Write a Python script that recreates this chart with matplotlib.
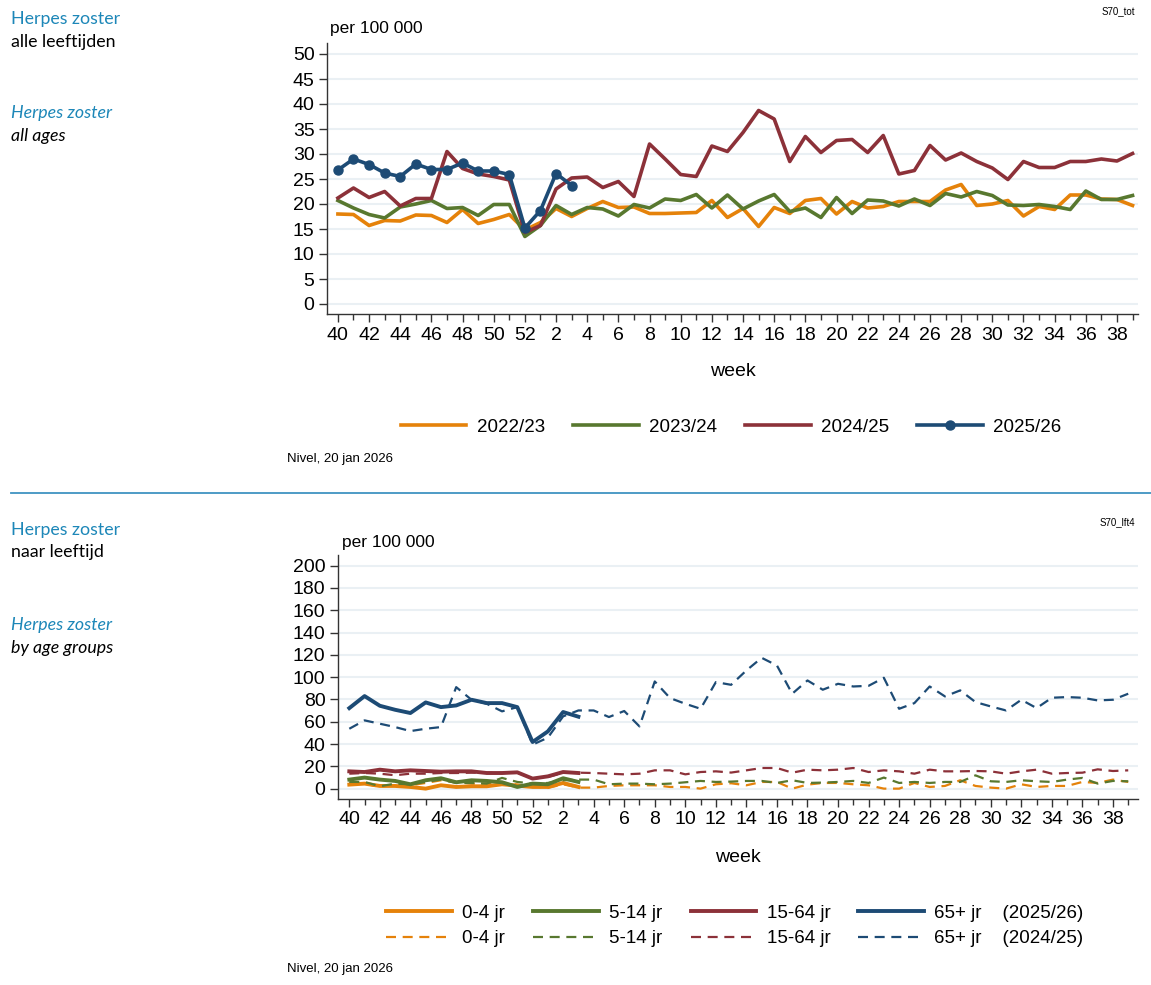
import matplotlib
matplotlib.use("Agg")
import matplotlib.pyplot as plt
from matplotlib.lines import Line2D
from matplotlib.ticker import MultipleLocator

plt.rcParams['font.family'] = ['Liberation Sans', 'DejaVu Sans']

# week order of a season: 40..52, then 1..39
weeks = [40, 41, 42, 43, 44, 45, 46, 47, 48, 49, 50, 51, 52,
         1, 2, 3, 4, 5, 6, 7, 8, 9, 10, 11, 12, 13, 14, 15, 16, 17, 18, 19, 20,
         21, 22, 23, 24, 25, 26, 27, 28, 29, 30, 31, 32, 33, 34, 35, 36, 37, 38, 39]

# --- all ages, per 100 000 ---
s2223 = [18.0, 17.9, 15.7, 16.7, 16.6, 17.8, 17.7, 16.3, 18.9, 16.1, 16.9, 17.9, 14.8,
         16.3, 19.1, 17.5, 19.1, 20.5, 19.3, 19.4, 18.1, 18.1, 18.2, 18.3, 20.7, 17.3,
         19.1, 15.5, 19.3, 18.1, 20.7, 21.1, 18.0, 20.5, 19.2, 19.5, 20.5, 20.5, 20.5,
         22.8, 23.9, 19.7, 20.0, 20.7, 17.6, 19.5, 18.9, 21.8, 21.8, 21.0, 20.9, 19.7]
s2324 = [20.7, 19.2, 17.9, 17.2, 19.4, 20.0, 20.7, 19.1, 19.3, 17.7, 19.9, 19.9, 13.5,
         15.7, 19.7, 17.9, 19.3, 19.0, 17.6, 19.9, 19.2, 21.0, 20.7, 21.9, 19.2, 21.8,
         19.0, 20.6, 21.9, 18.5, 19.2, 17.3, 21.3, 18.1, 20.8, 20.6, 19.6, 21.0, 19.7,
         22.1, 21.4, 22.5, 21.7, 19.8, 19.7, 19.9, 19.5, 18.9, 22.6, 20.9, 20.9, 21.7]
s2425 = [21.2, 23.2, 21.3, 22.5, 19.6, 21.1, 21.1, 30.5, 27.1, 26.0, 25.5, 24.8, 14.3,
         15.7, 23.0, 25.2, 25.4, 23.3, 24.5, 21.5, 32.0, 29.0, 25.9, 25.5, 31.6, 30.5,
         34.3, 38.7, 37.0, 28.5, 33.5, 30.3, 32.7, 32.9, 30.3, 33.7, 26.0, 26.7, 31.7,
         28.8, 30.2, 28.5, 27.2, 24.9, 28.5, 27.3, 27.3, 28.5, 28.5, 29.0, 28.6, 30.1]
s2526 = [26.8, 29.0, 27.9, 26.2, 25.5, 28.0, 26.9, 26.9, 28.2, 26.6, 26.6, 25.9, 15.2,
         18.7, 26.1, 23.7]

# --- by age group, per 100 000 ---
a04_2526 = [3.6, 4.5, 2.4, 2.4, 1.5, 0.0, 3.0, 1.5, 2.1, 2.1, 3.9, 2.7, 1.5, 1.5, 5.1, 1.5]
a514_2526 = [8.1, 9.9, 8.1, 6.9, 3.9, 7.5, 9.3, 5.7, 7.5, 6.9, 5.7, 1.5, 4.5, 3.9, 9.3, 6.0]
a1564_2526 = [15.5, 14.9, 17.0, 15.5, 16.4, 15.8, 15.2, 15.5, 15.5, 14.0, 14.0, 14.6, 9.0,
              11.0, 14.9, 14.0]
a65_2526 = [72.2, 83.0, 74.3, 70.7, 67.8, 77.3, 73.1, 74.6, 79.7, 76.7, 76.7, 73.1, 41.8,
            51.3, 68.7, 64.5]

a04_2425 = [5.1, 4.5, 1.5, 3.9, 3.0, 5.1, 7.5, 6.0, 4.5, 4.5, 5.4, 3.6, 2.1,
            0.6, 3.9, 0.9, 0.9, 2.4, 3.0, 3.0, 3.0, 1.5, 1.5, 0.0, 3.9, 4.8,
            3.0, 6.0, 6.0, 0.0, 3.6, 5.1, 5.1, 3.9, 3.0, 0.0, 0.0, 5.1, 1.5,
            2.4, 7.5, 2.4, 0.9, 0.0, 3.9, 1.5, 2.4, 2.4, 6.0, 5.1, 8.1, 6.0]
a514_2425 = [6.0, 6.0, 2.1, 4.5, 3.9, 6.0, 8.1, 5.1, 5.1, 4.5, 9.6, 6.0, 4.5,
             5.1, 7.5, 8.1, 8.1, 3.9, 4.5, 4.5, 3.9, 4.5, 5.7, 6.9, 6.0, 6.3,
             6.9, 6.9, 5.1, 7.5, 5.1, 5.4, 6.0, 6.9, 5.1, 9.9, 5.1, 6.0, 5.1,
             6.0, 6.0, 11.9, 6.6, 6.0, 7.5, 6.6, 6.0, 8.1, 9.6, 4.5, 6.9, 6.6]
a1564_2425 = [13.4, 14.0, 13.4, 12.0, 13.4, 13.4, 14.0, 14.0, 14.3, 14.3, 14.0, 14.3, 9.0,
              10.4, 14.3, 14.3, 14.0, 13.4, 12.8, 13.4, 16.4, 16.4, 12.8, 14.9, 15.5, 14.4,
              16.4, 18.5, 18.5, 14.3, 17.0, 16.4, 17.0, 18.5, 14.9, 16.4, 15.5, 13.4, 17.0,
              15.5, 15.5, 15.8, 15.5, 13.4, 15.5, 17.0, 13.4, 14.0, 14.3, 17.3, 15.8, 16.4]
a65_2425 = [53.7, 61.2, 58.2, 55.2, 51.6, 53.7, 55.2, 91.0, 79.7, 76.1, 69.3, 73.1, 39.4,
            45.7, 64.8, 70.1, 70.1, 64.2, 69.6, 55.8, 96.1, 81.2, 76.1, 71.6, 95.5, 93.1,
            106.0, 117.3, 110.4, 85.1, 97.0, 88.7, 94.0, 91.6, 92.2, 99.4, 71.6, 76.7, 91.6,
            82.7, 88.1, 77.6, 73.7, 70.1, 79.7, 72.2, 81.5, 82.1, 81.5, 79.1, 79.7, 85.1]

c_or = '#e5820a'
c_gr = '#58782f'
c_rd = '#8c3139'
c_bl = '#1d4b75'
c_title = '#1d87b8'
grid_c = '#eaf0f4'

W, H = 1151, 985
fig = plt.figure(figsize=(W / 100, H / 100), dpi=100)


def fx(px):
    return px / W


def fy(py):
    return 1 - py / H


def style_axes(ax, ystep):
    for s in ['top', 'right']:
        ax.spines[s].set_visible(False)
    for s in ['left', 'bottom']:
        ax.spines[s].set_color('#333333')
        ax.spines[s].set_linewidth(1.0)
    x = list(range(len(weeks)))
    ax.set_xticks(x[::2])
    ax.set_xticklabels([str(w) for w in weeks[::2]])
    ax.set_xticks(x[1::2], minor=True)
    ax.yaxis.set_major_locator(MultipleLocator(ystep))
    ax.tick_params(axis='both', which='major', length=6, width=1, color='#333333',
                   labelsize=14, pad=3)
    ax.tick_params(axis='x', which='minor', length=4, width=1, color='#333333')
    ax.tick_params(axis='y', which='minor', left=False)
    ax.grid(axis='y', color=grid_c, linewidth=1.5)
    ax.set_axisbelow(True)


# ---------- top panel ----------
ax1 = fig.add_axes([fx(327), fy(314), fx(1138 - 327), (314 - 43) / H])
x_all = list(range(len(weeks)))
ax1.plot(x_all, s2223, color=c_or, lw=2.6, label='2022/23')
ax1.plot(x_all, s2324, color=c_gr, lw=2.6, label='2023/24')
ax1.plot(x_all, s2425, color=c_rd, lw=2.6, label='2024/25')
ax1.plot(x_all[:len(s2526)], s2526, color=c_bl, lw=2.6, marker='o', ms=6.5,
         label='2025/26')
ax1.set_xlim(-0.7, 51.35)
ax1.set_ylim(-2, 52.2)
style_axes(ax1, 5)

fig.legend(*ax1.get_legend_handles_labels(), loc='center', ncol=4,
           bbox_to_anchor=(fx(731), fy(427)), frameon=False, fontsize=13.5,
           handlelength=3.5, handletextpad=0.55, columnspacing=1.5)

fig.text(fx(330), fy(29), 'per 100 000', fontsize=12.5, va='center', ha='left')
fig.text(fx(733), fy(372), 'week', fontsize=14, va='center', ha='center')
fig.text(fx(287), fy(459), 'Nivel, 20 jan 2026', fontsize=9.5, va='center')
fig.text(fx(1135), fy(11), 'S70_tot', fontsize=7, va='center', ha='right')

fig.text(fx(11), fy(19), 'Herpes zoster', fontsize=12.8, color=c_title,
         family='Lato', va='center')
fig.text(fx(11), fy(42), 'alle leeftijden', fontsize=12.8, family='Lato', va='center')
fig.text(fx(11), fy(113), 'Herpes zoster', fontsize=12.8, color=c_title,
         family='Lato', style='italic', va='center')
fig.text(fx(11), fy(136), 'all ages', fontsize=12.8, family='Lato', style='italic',
         va='center')

# separator
fig.add_artist(Line2D([fx(11), 1], [fy(493), fy(493)], color='#3f93c2', lw=1.3))

# ---------- bottom panel ----------
ax2 = fig.add_axes([fx(338), fy(799), fx(1138 - 338), (799 - 555) / H])
solid = [(a04_2526, c_or, '0-4 jr'), (a514_2526, c_gr, '5-14 jr'),
         (a1564_2526, c_rd, '15-64 jr'), (a65_2526, c_bl, '65+ jr    (2025/26)')]
dashed = [(a04_2425, c_or, '0-4 jr'), (a514_2425, c_gr, '5-14 jr'),
          (a1564_2425, c_rd, '15-64 jr'), (a65_2425, c_bl, '65+ jr    (2024/25)')]
handles = []
for (sv, c, lab), (dv, c2, lab2) in zip(solid, dashed):
    hs, = ax2.plot(x_all[:len(sv)], sv, color=c, lw=2.8, label=lab)
    hd, = ax2.plot(x_all, dv, color=c2, lw=1.6, ls=(0, (4.5, 3)), label=lab2)
    handles += [hs, hd]
ax2.set_xlim(-0.74, 51.64)
ax2.set_ylim(-9.3, 209.5)
style_axes(ax2, 20)

fig.legend(handles, [h.get_label() for h in handles], loc='center', ncol=4,
           bbox_to_anchor=(fx(735), fy(926)), frameon=False, fontsize=13.5,
           handlelength=3.5, handletextpad=0.55, columnspacing=1.5,
           labelspacing=0.45)

fig.text(fx(342), fy(542), 'per 100 000', fontsize=12.5, va='center', ha='left')
fig.text(fx(738), fy(857), 'week', fontsize=14, va='center', ha='center')
fig.text(fx(287), fy(969), 'Nivel, 20 jan 2026', fontsize=9.5, va='center')
fig.text(fx(1135), fy(522), 'S70_lft4', fontsize=7, va='center', ha='right')

fig.text(fx(11), fy(530), 'Herpes zoster', fontsize=12.8, color=c_title,
         family='Lato', va='center')
fig.text(fx(11), fy(552), 'naar leeftijd', fontsize=12.8, family='Lato', va='center')
fig.text(fx(11), fy(625), 'Herpes zoster', fontsize=12.8, color=c_title,
         family='Lato', style='italic', va='center')
fig.text(fx(11), fy(648), 'by age groups', fontsize=12.8, family='Lato',
         style='italic', va='center')

fig.savefig('out.png', dpi=100)
